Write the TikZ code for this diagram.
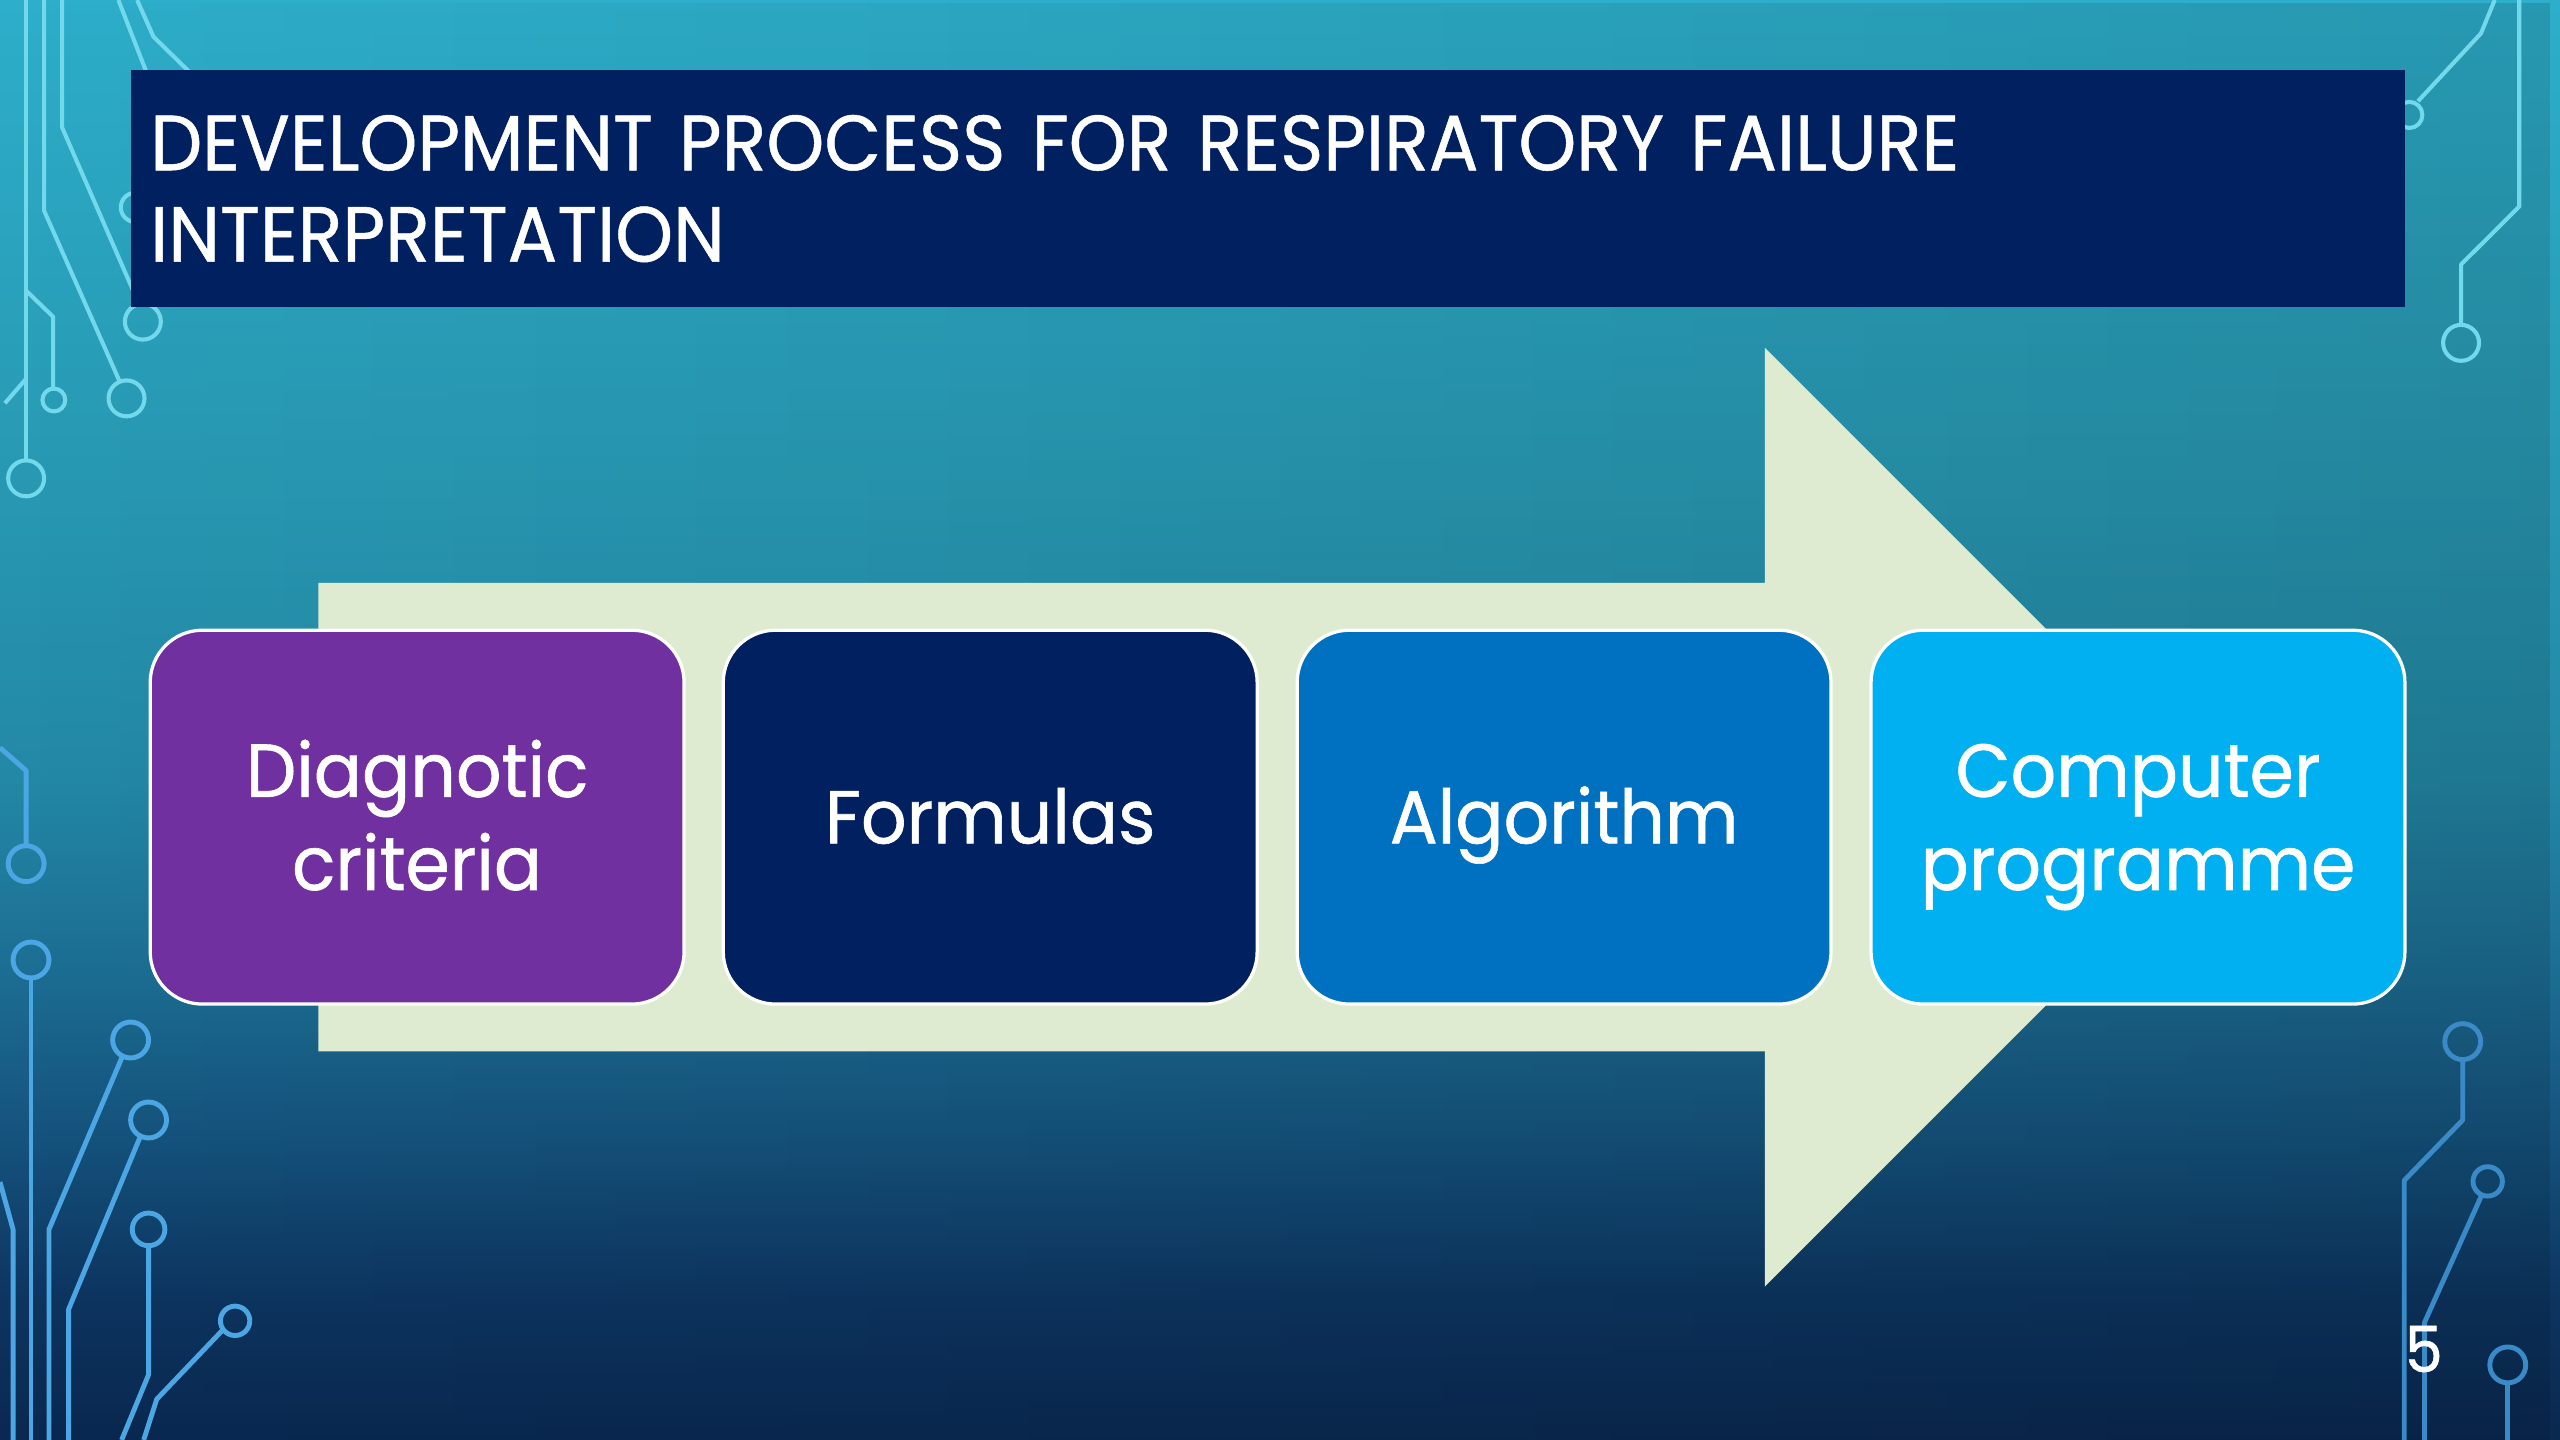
\documentclass[tikz,border=0pt]{standalone}
\usepackage{fontspec}
\setmainfont{Poppins}[FakeStretch=0.9]
\newfontfamily\titlefont{Poppins}[FakeStretch=0.94, FakeBold=0.6]
\newfontfamily\boxfont{Poppins}[FakeStretch=0.95, FakeBold=0.8]
\usetikzlibrary{fadings}
\definecolor{bgA}{HTML}{0A2850}
\definecolor{bgB}{HTML}{0D3560}
\definecolor{bgC}{HTML}{14507A}
\definecolor{bgD}{HTML}{1C6C92}
\definecolor{bgE}{HTML}{2388A5}
\definecolor{bgF}{HTML}{2898B2}
\definecolor{bgG}{HTML}{2DAECA}
\definecolor{navy}{HTML}{002060}
\definecolor{purp}{HTML}{7030A0}
\definecolor{midblue}{HTML}{0070C0}
\definecolor{skyblue}{HTML}{00B0F0}
\definecolor{arrowfill}{HTML}{DEEBD0}
\definecolor{circcyan}{HTML}{72D8EC}
\definecolor{circblue}{HTML}{4DA6E4}
\definecolor{circblueR}{HTML}{3A8AC8}
\pgfdeclareverticalshading{bgshade}{100bp}{color(0bp)=(bgA); color(25bp)=(bgA); color(30bp)=(bgB); color(35bp)=(bgC); color(41bp)=(bgD); color(48bp)=(bgE); color(58bp)=(bgF); color(75bp)=(bgG); color(100bp)=(bgG)}
\tikzfading[name=darkright, left color=transparent!100, right color=transparent!0]
\newcommand\capbox[1]{\raisebox{0pt}[0.7em][0pt]{#1}}
\tikzset{
  cyanline/.style={draw=circcyan, line width=2.5pt, line join=round},
  blueline/.style={draw=circblue, line width=3pt, line join=round},
  bluelineR/.style={draw=circblueR, line width=3pt, line join=round},
  stagebox/.style={draw=white, line width=2pt, rounded corners=32pt,
    minimum width=327pt, minimum height=229pt, inner sep=0pt,
    text=white, align=center, font=\boxfont\fontsize{46}{57}\selectfont},
  titlebox/.style={fill=navy, minimum width=1393pt, minimum height=145pt,
    inner xsep=12pt, inner ysep=0pt, text width=1369pt, align=left,
    text=white, font=\titlefont\fontsize{48}{56}\selectfont},
  pagenum/.style={text=white, inner sep=0pt, font=\boxfont\fontsize{39}{44}\selectfont}
}
\begin{document}
\begin{tikzpicture}[x=1pt,y=-1pt]
\useasboundingbox (0,0) rectangle (1568,882);
% background
\shade[shading=bgshade] (0,0) rectangle (1568,882);
\fill[black, opacity=0.12, path fading=darkright] (0,0) rectangle (1568,882);
% top-left circuit
\draw[cyanline] (16,0) -- (16,282);
\draw[cyanline] (16,293) circle[radius=11pt];
\draw[cyanline] (16,232) -- (3,247);
\draw[cyanline] (16,178) -- (32.5,194) -- (32.5,238);
\draw[cyanline] (33,245) circle[radius=7pt];
\draw[cyanline] (27,0) -- (27,129) -- (73,233);
\draw[cyanline] (77.5,244) circle[radius=11pt];
\draw[cyanline] (38,0) -- (38,78) -- (85,186);
\draw[cyanline] (87.5,197) circle[radius=11pt];
\draw[cyanline] (72.5,0) -- (90,45);
\draw[cyanline] (84,0) -- (94,22.5) -- (118,46);
\draw[cyanline] (83,127) circle[radius=9pt];
% top-right circuit
\draw[cyanline] (1528,0) -- (1519.6,20.4) -- (1481,62);
\draw[cyanline] (1475.7,70.4) circle[radius=8pt];
\draw[cyanline] (1543,0) -- (1543,126.5) -- (1507.4,162) -- (1507.4,199);
\draw[cyanline] (1507.4,210) circle[radius=11pt];
% bottom-left circuit
\draw[blueline] (0,458) -- (16,472) -- (16,518);
\draw[blueline] (16,529) circle[radius=11pt];
\draw[blueline] (19,588) circle[radius=11pt];
\draw[blueline] (19,599) -- (19,882);
\draw[blueline] (80,637) circle[radius=11pt];
\draw[blueline] (75,647) -- (30,753) -- (30,882);
\draw[blueline] (91,686) circle[radius=11pt];
\draw[blueline] (86,696) -- (42,802) -- (42,882);
\draw[blueline] (91,753) circle[radius=10pt];
\draw[blueline] (91,763) -- (91,842) -- (74.5,882);
\draw[blueline] (144,809) circle[radius=9pt];
\draw[blueline] (137,814) -- (96,857) -- (88,882);
\draw[blueline] (0,724) -- (8,753) -- (8,882);
% bottom-right circuit
\draw[bluelineR] (1508.4,638) circle[radius=11pt];
\draw[bluelineR] (1508.4,649) -- (1508.4,686) -- (1472.6,723) -- (1472.6,882);
\draw[bluelineR] (1523.7,723.6) circle[radius=9pt];
\draw[bluelineR] (1519.6,733) -- (1485,810) -- (1485,882);
\draw[bluelineR] (1536,836) circle[radius=11pt];
\draw[bluelineR] (1536,847) -- (1536,882);
% title
\node[titlebox] (title) at (776.5,115.5)
  {\capbox{DEVELOPMENT PROCESS FOR RESPIRATORY FAILURE}\\\capbox{INTERPRETATION}};
% big arrow
\fill[arrowfill] (195,357) -- (1081,357) -- (1081,213) -- (1368.5,500.5)
  -- (1081,788) -- (1081,644) -- (195,644) -- cycle;
% stage boxes
\node[stagebox, fill=purp] (s1) at (255.5,500.5) {\capbox{Diagnotic}\\\capbox{criteria}};
\node[stagebox, fill=navy] (s2) at (606.5,500.5) {\capbox{Formulas}};
\node[stagebox, fill=midblue] (s3) at (958,500.5) {\capbox{Algorithm}};
\node[stagebox, fill=skyblue] (s4) at (1309.5,500.5) {\capbox{Computer}\\\capbox{programme}};
% page number
\node[pagenum] (pg) at (1484.5,826.7) {\capbox{5}};
\end{tikzpicture}
\end{document}
